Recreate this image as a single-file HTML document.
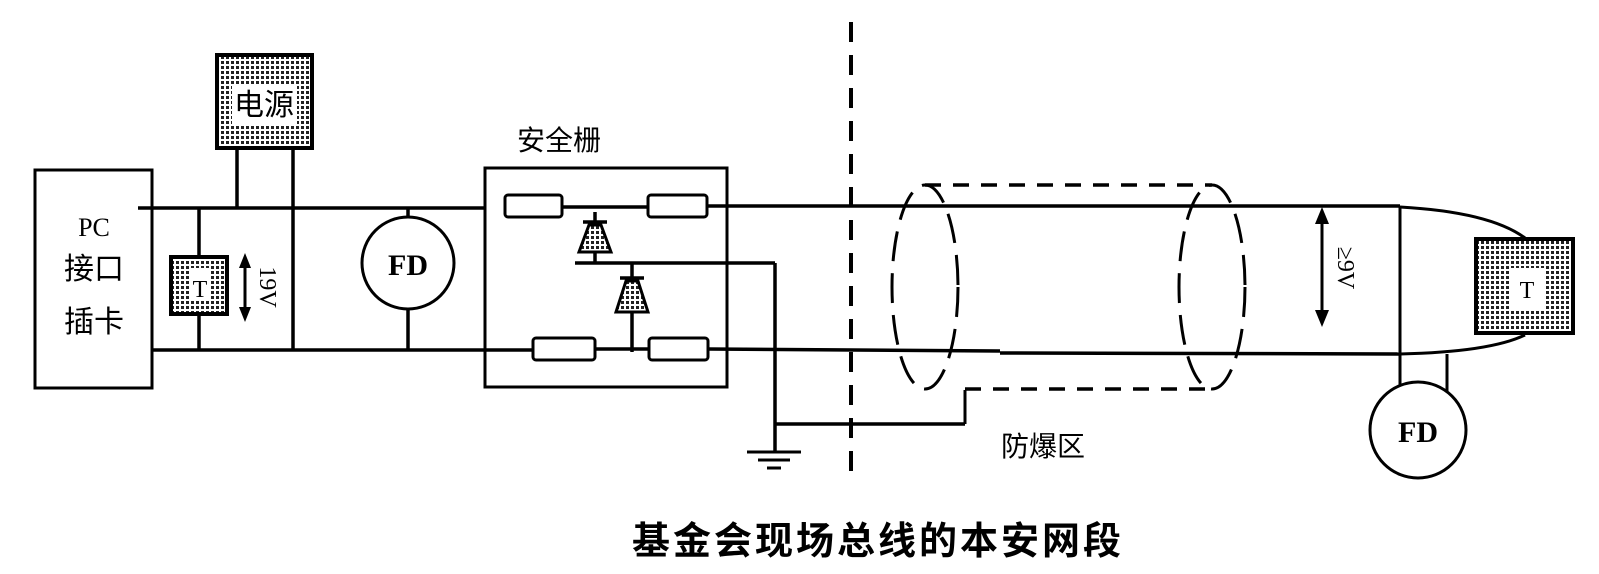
<!DOCTYPE html>
<html><head><meta charset="utf-8"><style>
html,body{margin:0;padding:0;background:#fff}
svg{display:block}
text{font-family:"Liberation Serif","Noto Serif CJK SC",serif;fill:#000}
.cjk{font-family:"Liberation Sans","Noto Sans CJK SC",sans-serif}
</style></head><body>
<svg width="1599" height="574" viewBox="0 0 1599 574" xmlns="http://www.w3.org/2000/svg">
<defs>
<pattern id="dots" width="5" height="5" patternUnits="userSpaceOnUse">
<rect width="5" height="5" fill="#fff"/><rect x="1" y="1" width="3" height="3" fill="#222"/>
</pattern>
</defs>
<g stroke="#000" stroke-width="3.5" fill="none">
<rect x="35" y="170" width="117" height="218" stroke-width="3"/>
<line x1="138" y1="208" x2="485" y2="208"/>
<line x1="152" y1="350" x2="533" y2="350"/>
<line x1="237" y1="150" x2="237" y2="208"/>
<line x1="293" y1="150" x2="293" y2="350"/>
<line x1="199" y1="208" x2="199" y2="256"/>
<line x1="199" y1="315" x2="199" y2="350"/>
<line x1="408" y1="208" x2="408" y2="217"/>
<line x1="408" y1="309" x2="408" y2="350"/>
<circle cx="408" cy="263" r="46" stroke-width="3"/>
<rect x="485" y="168" width="242" height="219" stroke-width="3"/>
<rect x="505" y="195" width="57" height="22" rx="3" stroke-width="3"/>
<rect x="648" y="195" width="59" height="22" rx="3" stroke-width="3"/>
<line x1="562" y1="207" x2="648" y2="207"/>
<line x1="707" y1="206" x2="1400" y2="206"/>
<rect x="533" y="338" width="62" height="22" rx="3" stroke-width="3"/>
<rect x="649" y="338" width="59" height="22" rx="3" stroke-width="3"/>
<line x1="595" y1="349" x2="649" y2="349"/>
<line x1="708" y1="349" x2="1000" y2="351"/>
<line x1="1000" y1="353" x2="1400" y2="354"/>
<line x1="595" y1="212" x2="595" y2="263"/>
<line x1="583" y1="222" x2="607" y2="222"/>
<line x1="575" y1="263" x2="775" y2="263"/>
<line x1="632" y1="263" x2="632" y2="352"/>
<line x1="620" y1="278" x2="644" y2="278"/>
<line x1="775" y1="263" x2="775" y2="452"/>
<line x1="775" y1="424" x2="965" y2="424"/>
<line x1="965" y1="424" x2="965" y2="390" stroke-width="3"/>
<line x1="747" y1="452" x2="801" y2="452" stroke-width="3"/>
<line x1="758" y1="460" x2="790" y2="460" stroke-width="3"/>
<line x1="767" y1="468" x2="781" y2="468" stroke-width="3"/>
<line x1="851" y1="22" x2="851" y2="472" stroke-dasharray="20 13" stroke-width="4"/>
<ellipse cx="925" cy="287" rx="33" ry="102" stroke-dasharray="30 12" stroke-width="3"/>
<ellipse cx="1212" cy="287" rx="33" ry="102" stroke-dasharray="30 12" stroke-width="3"/>
<line x1="925" y1="185" x2="1212" y2="185" stroke-dasharray="16 12" stroke-width="3.5"/>
<line x1="965" y1="389" x2="1212" y2="389" stroke-dasharray="16 12" stroke-width="3.5"/>
<line x1="1400" y1="206" x2="1400" y2="355" stroke-width="3"/>
<path d="M1400 207 Q1490 212 1525 238" stroke-width="3"/>
<path d="M1400 354 Q1490 352 1525 335" stroke-width="3"/>
<line x1="1400" y1="354" x2="1400" y2="385" stroke-width="3"/>
<line x1="1447" y1="354" x2="1447" y2="392" stroke-width="3"/>
<circle cx="1418" cy="430" r="48" stroke-width="3"/>
<line x1="245" y1="262" x2="245" y2="312" stroke-width="3"/>
<line x1="1322" y1="218" x2="1322" y2="316" stroke-width="3"/>
</g>
<g fill="#000">
<polygon points="589,225 601,225 611,252 579,252" fill="url(#dots)" stroke="#000" stroke-width="3"/>
<polygon points="626,281 638,281 648,312 616,312" fill="url(#dots)" stroke="#000" stroke-width="3"/>
<polygon points="245,253 239,268 251,268"/>
<polygon points="245,322 239,307 251,307"/>
<polygon points="1322,207 1315,224 1329,224"/>
<polygon points="1322,327 1315,310 1329,310"/>
</g>
<rect x="217" y="55" width="95" height="93" fill="url(#dots)" stroke="#000" stroke-width="4"/>
<rect x="232" y="85" width="65" height="40" fill="#fff"/>
<rect x="171" y="257" width="56" height="57" fill="url(#dots)" stroke="#000" stroke-width="4"/>
<rect x="190" y="268" width="20" height="32" fill="#fff"/>
<rect x="1476" y="239" width="97" height="94" fill="url(#dots)" stroke="#000" stroke-width="4"/>
<rect x="1510" y="268" width="34" height="42" fill="#fff"/>
<text x="264" y="115" font-size="30" text-anchor="middle" class="cjk">电源</text>
<text x="200" y="297" font-size="24" text-anchor="middle">T</text>
<text x="1527" y="298" font-size="24" text-anchor="middle">T</text>
<text x="94" y="236" font-size="26" text-anchor="middle">PC</text>
<text x="94" y="279" font-size="30" text-anchor="middle" class="cjk">接口</text>
<text x="94" y="332" font-size="30" text-anchor="middle" class="cjk">插卡</text>
<text x="408" y="275" font-size="30" font-weight="bold" text-anchor="middle">FD</text>
<text x="1418" y="442" font-size="30" font-weight="bold" text-anchor="middle">FD</text>
<text transform="translate(260,287) rotate(90)" font-size="24" text-anchor="middle">19V</text>
<text transform="translate(1338,268) rotate(90)" font-size="24" text-anchor="middle">≥9V</text>
<text x="559" y="150" font-size="28" text-anchor="middle" class="cjk">安全栅</text>
<text x="1043" y="456" font-size="28" text-anchor="middle" class="cjk">防爆区</text>
<text x="878" y="554" font-size="38" font-weight="bold" text-anchor="middle" class="cjk" letter-spacing="3">基金会现场总线的本安网段</text>
</svg>
</body></html>
